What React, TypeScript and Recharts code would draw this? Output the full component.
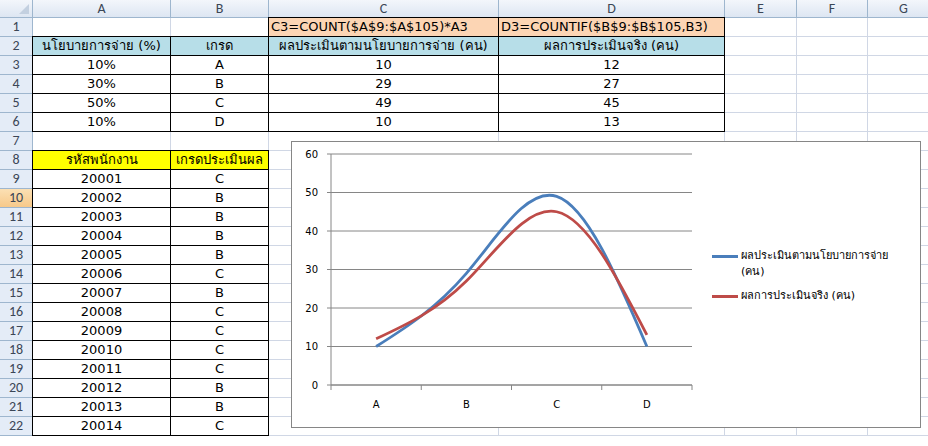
import React from "react"
import { LineChart, Line, XAxis, YAxis, CartesianGrid, Legend } from "recharts"

const columnLabels = ["A", "B", "C", "D", "E", "F", "G"]
const formulas = ["C3=COUNT($A$9:$A$105)*A3", "D3=COUNTIF($B$9:$B$105,B3)"]
const tableHeaders = ["นโยบายการจ่าย (%)", "เกรด", "ผลประเมินตามนโยบายการจ่าย (คน)", "ผลการประเมินจริง (คน)"]
const policyPct = ["10%", "30%", "50%", "10%"]
const grades = ["A", "B", "C", "D"]
const policyCount = [10, 29, 49, 10]
const actualCount = [12, 27, 45, 13]
const listHeaders = ["รหัสพนักงาน", "เกรดประเมินผล"]
const employeeIds = ["20001", "20002", "20003", "20004", "20005", "20006", "20007", "20008", "20009", "20010", "20011", "20012", "20013", "20014"]
const employeeGrades = ["C", "B", "B", "B", "B", "C", "B", "C", "C", "C", "C", "B", "B", "C"]
const yTicks = [0, 10, 20, 30, 40, 50, 60]
const seriesNames = ["ผลประเมินตามนโยบายการจ่าย (คน)", "ผลการประเมินจริง (คน)"]

const chartData = grades.map((g, i) => ({ grade: g, policy: policyCount[i], actual: actualCount[i] }))

// sheet geometry
const COL_X = [0, 33, 171, 269, 499, 725, 797, 868, 940]
const HEAD_H = 18
const ROW_H = 19
const ROWS = 22
const rowTop = (r: number) => HEAD_H + ROW_H * (r - 1)

const CELL_FONT = "Tahoma, 'DejaVu Sans', 'Noto Sans', sans-serif"
const HEAD_FONT = "Calibri, 'Liberation Sans', Arial, sans-serif"
const GRID = "#d0d7e5"

const BLUE = "#4a7ebb"
const RED = "#be4b48"
const AXIS = "#868686"

// chart geometry
const CHART_W = 628
const CHART_H = 285
const MARGIN = { top: 12, right: 228, bottom: 12, left: 0 }
const Y_W = 39
const PLOT_W = CHART_W - MARGIN.left - MARGIN.right - Y_W
const BAND = PLOT_W / grades.length
const X_MARGIN = 16

type CellProps = {
  c: number
  r: number
  span?: number
  text?: string
  bg?: string
  align?: "center" | "left"
  boxed?: boolean
}

function Cell({ c, r, span = 1, text, bg, align = "center", boxed }: CellProps) {
  const left = COL_X[c + 1]
  const right = COL_X[c + 1 + span]
  const top = rowTop(r)
  const style: React.CSSProperties = boxed
    ? {
        position: "absolute",
        left: left - 1,
        top: top - 1,
        width: right - left + 1,
        height: ROW_H + 1,
        border: "1px solid #000",
      }
    : {
        position: "absolute",
        left,
        top,
        width: right - left,
        height: ROW_H,
        borderRight: `1px solid ${GRID}`,
        borderBottom: `1px solid ${GRID}`,
      }
  return (
    <div
      style={{
        ...style,
        boxSizing: "border-box",
        background: bg,
        fontFamily: CELL_FONT,
        fontSize: 13,
        lineHeight: `${ROW_H - 2}px`,
        textAlign: align,
        paddingLeft: align === "left" ? 2 : 0,
        whiteSpace: "nowrap",
        overflow: "hidden",
        color: "#000",
      }}
    >
      {text}
    </div>
  )
}

function XTick(props: any) {
  const { x, y, payload, index } = props
  const axisY = y - X_MARGIN
  return (
    <g>
      <text x={x} y={y} dy="0.71em" textAnchor="middle" fontSize={10} fill="#000" fontFamily={CELL_FONT}>
        {payload.value}
      </text>
      <line x1={x - BAND / 2} y1={axisY} x2={x - BAND / 2} y2={axisY + 5} stroke={AXIS} />
      {index === grades.length - 1 && (
        <line x1={x + BAND / 2} y1={axisY} x2={x + BAND / 2} y2={axisY + 5} stroke={AXIS} />
      )}
    </g>
  )
}

function LegendBox() {
  const colors = [BLUE, RED]
  return (
    <div style={{ fontFamily: CELL_FONT, fontSize: 11, lineHeight: "16px", color: "#000" }}>
      {seriesNames.map((name, i) => (
        <div key={name} style={{ display: "flex", alignItems: "flex-start", marginBottom: 8 }}>
          <div style={{ width: 26, height: 3, background: colors[i], marginTop: 7, marginRight: 3, flex: "none" }} />
          <div style={{ width: 172 }}>{name}</div>
        </div>
      ))}
    </div>
  )
}

export default function App() {
  const gridCells: React.ReactNode[] = []
  for (let r = 1; r <= ROWS; r++) {
    for (let c = 0; c < columnLabels.length; c++) {
      gridCells.push(<Cell key={`g${r}-${c}`} c={c} r={r} />)
    }
  }

  return (
    <div
      style={{
        position: "fixed",
        left: 0,
        top: 0,
        width: 928,
        height: 446,
        overflow: "hidden",
        background: "#fff",
      }}
    >
      {/* corner */}
      <div
        style={{
          position: "absolute",
          left: 0,
          top: 0,
          width: COL_X[1],
          height: HEAD_H,
          boxSizing: "border-box",
          background: "linear-gradient(#f3f6fb, #dde6f2)",
          borderRight: "1px solid #9eb6ce",
          borderBottom: "1px solid #9eb6ce",
        }}
      >
        <div
          style={{
            position: "absolute",
            right: 3,
            bottom: 3,
            width: 0,
            height: 0,
            borderLeft: "10px solid transparent",
            borderBottom: "10px solid #c3d0e0",
          }}
        />
      </div>
      {/* column headers */}
      {columnLabels.map((label, c) => (
        <div
          key={label}
          style={{
            position: "absolute",
            left: COL_X[c + 1],
            top: 0,
            width: COL_X[c + 2] - COL_X[c + 1],
            height: HEAD_H,
            boxSizing: "border-box",
            background: "linear-gradient(#f3f6fb, #dde6f2)",
            borderRight: "1px solid #9eb6ce",
            borderBottom: "1px solid #9eb6ce",
            fontFamily: HEAD_FONT,
            fontSize: 14,
            lineHeight: `${HEAD_H - 1}px`,
            textAlign: "center",
            color: "#3b4656",
          }}
        >
          {label}
        </div>
      ))}
      {/* row headers */}
      {Array.from({ length: ROWS }, (_, i) => i + 1).map((r) => (
        <div
          key={`rh${r}`}
          style={{
            position: "absolute",
            left: 0,
            top: rowTop(r),
            width: COL_X[1],
            height: ROW_H,
            boxSizing: "border-box",
            background: r === 10 ? "linear-gradient(#fbe0b4, #f7c98a)" : "#e4ecf7",
            borderRight: "1px solid #9eb6ce",
            borderBottom: "1px solid #9eb6ce",
            fontFamily: HEAD_FONT,
            fontSize: 14,
            lineHeight: `${ROW_H - 1}px`,
            textAlign: "center",
            color: "#3b4656",
          }}
        >
          {r}
        </div>
      ))}

      {gridCells}

      {/* formulas row */}
      {formulas.map((f, i) => (
        <Cell key={f} c={2 + i} r={1} text={f} bg="#fcd5b4" align="left" boxed />
      ))}
      {/* summary table */}
      {tableHeaders.map((h, i) => (
        <Cell key={h} c={i} r={2} text={h} bg="#b7dee8" boxed />
      ))}
      {grades.map((g, i) => (
        <React.Fragment key={`t${i}`}>
          <Cell c={0} r={3 + i} text={policyPct[i]} boxed />
          <Cell c={1} r={3 + i} text={g} boxed />
          <Cell c={2} r={3 + i} text={String(policyCount[i])} boxed />
          <Cell c={3} r={3 + i} text={String(actualCount[i])} boxed />
        </React.Fragment>
      ))}
      {/* employee list */}
      {listHeaders.map((h, i) => (
        <Cell key={h} c={i} r={8} text={h} bg="#ffff00" boxed />
      ))}
      {employeeIds.map((id, i) => (
        <React.Fragment key={id}>
          <Cell c={0} r={9 + i} text={id} boxed />
          <Cell c={1} r={9 + i} text={employeeGrades[i]} boxed />
        </React.Fragment>
      ))}

      {/* chart */}
      <div
        style={{
          position: "absolute",
          left: 291,
          top: 141,
          width: CHART_W + 2,
          height: CHART_H + 2,
          boxSizing: "border-box",
          border: `1px solid ${AXIS}`,
          background: "#fff",
        }}
      >
        <LineChart width={CHART_W} height={CHART_H} data={chartData} margin={MARGIN}>
          <CartesianGrid vertical={false} stroke={AXIS} strokeWidth={1} />
          <XAxis
            dataKey="grade"
            padding={{ left: BAND / 2, right: BAND / 2 }}
            height={30}
            tickSize={0}
            tickMargin={X_MARGIN}
            tickLine={false}
            axisLine={{ stroke: AXIS }}
            tick={<XTick />}
            interval={0}
          />
          <YAxis
            width={Y_W}
            domain={[0, 60]}
            ticks={yTicks}
            interval={0}
            tickSize={4}
            tickMargin={9}
            axisLine={{ stroke: AXIS }}
            tickLine={{ stroke: AXIS }}
            tick={{ fontSize: 10, fill: "#000", fontFamily: CELL_FONT }}
          />
          <Legend
            layout="vertical"
            align="center"
            verticalAlign="middle"
            wrapperStyle={{ left: 420, top: 106, width: 205 }}
            content={() => <LegendBox />}
          />
          <Line
            type="natural"
            dataKey="policy"
            name={seriesNames[0]}
            stroke={BLUE}
            strokeWidth={2.8}
            dot={false}
            isAnimationActive={false}
          />
          <Line
            type="natural"
            dataKey="actual"
            name={seriesNames[1]}
            stroke={RED}
            strokeWidth={2.8}
            dot={false}
            isAnimationActive={false}
          />
        </LineChart>
      </div>
    </div>
  )
}
